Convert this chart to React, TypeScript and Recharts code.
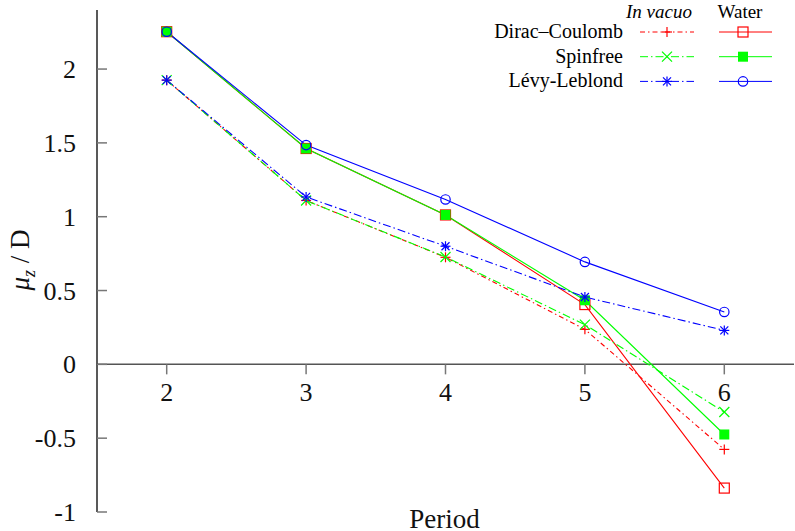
import {
  ComposedChart,
  Line,
  Scatter,
  XAxis,
  YAxis,
  ReferenceLine,
  Label,
} from "recharts";

// dipole moment (z) per period, in vacuo vs water
const periods = [2, 3, 4, 5, 6];
const periodLabels = ["2", "3", "4", "5", "6"];
const dcVacuo = [1.925, 1.11, 0.725, 0.237, -0.576];
const dcWater = [2.253, 1.462, 1.012, 0.405, -0.838];
const sfVacuo = [1.925, 1.11, 0.727, 0.269, -0.323];
const sfWater = [2.253, 1.462, 1.012, 0.434, -0.475];
const llVacuo = [1.925, 1.134, 0.8, 0.456, 0.23];
const llWater = [2.253, 1.485, 1.117, 0.694, 0.355];

const yTicks = [-1, -0.5, 0, 0.5, 1, 1.5, 2];
const yTickLabels = ["-1", "-0.5", "0", "0.5", "1", "1.5", "2"];
const methodNames = ["Dirac–Coulomb", "Spinfree", "Lévy-Leblond"];

const RED = "#ff0000";
const GREEN = "#00ff00";
const BLUE = "#0000ff";
const FONT = "'Liberation Serif', 'DejaVu Serif', serif";

type Kind = "plus" | "square" | "cross" | "fsquare" | "star" | "circle";

const series: { vals: number[]; color: string; dash?: string; marker: Kind }[] = [
  { vals: dcVacuo, color: RED, dash: "5 3 1.5 3", marker: "plus" },
  { vals: dcWater, color: RED, marker: "square" },
  { vals: sfVacuo, color: GREEN, dash: "8 3 1.5 3", marker: "cross" },
  { vals: sfWater, color: GREEN, marker: "fsquare" },
  { vals: llVacuo, color: BLUE, dash: "8 3 1.5 3", marker: "star" },
  { vals: llWater, color: BLUE, marker: "circle" },
];

const rows = (vals: number[]) => periods.map((p, i) => ({ x: p, y: vals[i] }));
const xTickRows = periods.map((p, i) => ({ x: p, y: 0, label: periodLabels[i] }));

function Marker({ kind, cx, cy, color }: { kind: Kind; cx: number; cy: number; color: string }) {
  const s = 5;
  switch (kind) {
    case "plus":
      return (
        <g stroke={color} strokeWidth={1.2}>
          <line x1={cx - s} x2={cx + s} y1={cy} y2={cy} />
          <line x1={cx} x2={cx} y1={cy - s} y2={cy + s} />
        </g>
      );
    case "cross":
      return (
        <g stroke={color} strokeWidth={1.2}>
          <line x1={cx - s} x2={cx + s} y1={cy - s} y2={cy + s} />
          <line x1={cx - s} x2={cx + s} y1={cy + s} y2={cy - s} />
        </g>
      );
    case "star":
      return (
        <g stroke={color} strokeWidth={1.2}>
          <line x1={cx - s} x2={cx + s} y1={cy} y2={cy} />
          <line x1={cx} x2={cx} y1={cy - s} y2={cy + s} />
          <line x1={cx - 4} x2={cx + 4} y1={cy - 4} y2={cy + 4} />
          <line x1={cx - 4} x2={cx + 4} y1={cy + 4} y2={cy - 4} />
        </g>
      );
    case "square":
      return <rect x={cx - s} y={cy - s} width={2 * s} height={2 * s} fill="none" stroke={color} strokeWidth={1.2} />;
    case "fsquare":
      return <rect x={cx - s} y={cy - s} width={2 * s} height={2 * s} fill={color} stroke="none" />;
    default:
      return <circle cx={cx} cy={cy} r={4.7} fill="none" stroke={color} strokeWidth={1.2} />;
  }
}

function YTick(props: any) {
  const { x, y, index } = props;
  return (
    <g>
      <line x1={x} x2={x + 10} y1={y} y2={y} stroke="#777" strokeWidth={1.5} />
      <text x={x - 21} y={y + 9} textAnchor="end" fontFamily={FONT} fontSize={26} fill="#111">
        {yTickLabels[index]}
      </text>
    </g>
  );
}

function XTick(props: any) {
  const { cx, cy, payload } = props;
  return (
    <g>
      <line x1={cx} x2={cx} y1={cy} y2={cy + 10} stroke="#777" strokeWidth={1.5} />
      <text x={cx} y={cy + 37} textAnchor="middle" fontFamily={FONT} fontSize={26} fill="#111">
        {payload.label}
      </text>
    </g>
  );
}

function LegendBox() {
  return (
    <svg width={795} height={100} style={{ position: "absolute", left: 0, top: 0 }}>
      <text x={659} y={18} textAnchor="middle" fontFamily={FONT} fontStyle="italic" fontSize={19}>
        In vacuo
      </text>
      <text x={740} y={18} textAnchor="middle" fontFamily={FONT} fontSize={19}>
        Water
      </text>
      {methodNames.map((name, i) => {
        const vac = series[i * 2];
        const wat = series[i * 2 + 1];
        const ly = 32 + i * 24.7;
        return (
          <g key={name}>
            <text x={623} y={ly + 6} textAnchor="end" fontFamily={FONT} fontSize={20}>
              {name}
            </text>
            <line x1={640} x2={694} y1={ly} y2={ly} stroke={vac.color} strokeDasharray={vac.dash} />
            <Marker kind={vac.marker} cx={667} cy={ly} color={vac.color} />
            <line x1={719} x2={772} y1={ly} y2={ly} stroke={wat.color} />
            <Marker kind={wat.marker} cx={743} cy={ly} color={wat.color} />
          </g>
        );
      })}
    </svg>
  );
}

export default function App() {
  return (
    <div style={{ position: "absolute", left: 0, top: 0, width: 795, height: 531, background: "#fff" }}>
      <ComposedChart width={795} height={531} margin={{ top: 10, right: 1, bottom: 0, left: 0 }}>
        <XAxis
          dataKey="x"
          type="number"
          domain={[1.5, 6.5]}
          tick={false}
          axisLine={false}
          tickLine={false}
          height={19}
        >
          <Label
            content={(p: any) => {
              const vb = p.viewBox;
              return (
                <text x={vb.x + vb.width / 2 - 1} y={vb.y + 16} textAnchor="middle" fontFamily={FONT} fontSize={27} fill="#111">
                  Period
                </text>
              );
            }}
          />
        </XAxis>
        <YAxis
          dataKey="y"
          type="number"
          domain={[-1, 2.4]}
          ticks={yTicks}
          width={97}
          tickSize={0}
          tickMargin={0}
          tickLine={false}
          axisLine={{ stroke: "#222", strokeWidth: 1.5 }}
          tick={<YTick />}
          interval={0}
        >
          <Label
            content={(p: any) => {
              const vb = p.viewBox;
              const lx = vb.x + 29;
              const ly = vb.y + vb.height / 2 - 1;
              return (
                <text x={lx} y={ly} transform={`rotate(-90 ${lx} ${ly})`} textAnchor="middle" fontFamily={FONT} fontSize={27} fill="#111">
                  <tspan fontStyle="italic">μ</tspan>
                  <tspan fontSize={18} fontStyle="italic" dy={6}>z</tspan>
                  <tspan dy={-6}> / D</tspan>
                </text>
              );
            }}
          />
        </YAxis>
        <ReferenceLine y={0} stroke="#555" strokeWidth={1.5} />
        <Scatter data={xTickRows} shape={<XTick />} isAnimationActive={false} />
        {series.map((s, k) => (
          <Line
            key={k}
            data={rows(s.vals)}
            dataKey="y"
            type="linear"
            stroke={s.color}
            strokeWidth={1.1}
            strokeDasharray={s.dash}
            isAnimationActive={false}
            dot={(p: any) => <Marker key={`${k}-${p.index}`} kind={s.marker} cx={p.cx} cy={p.cy} color={s.color} />}
            activeDot={false}
          />
        ))}
      </ComposedChart>
      <LegendBox />
    </div>
  );
}
